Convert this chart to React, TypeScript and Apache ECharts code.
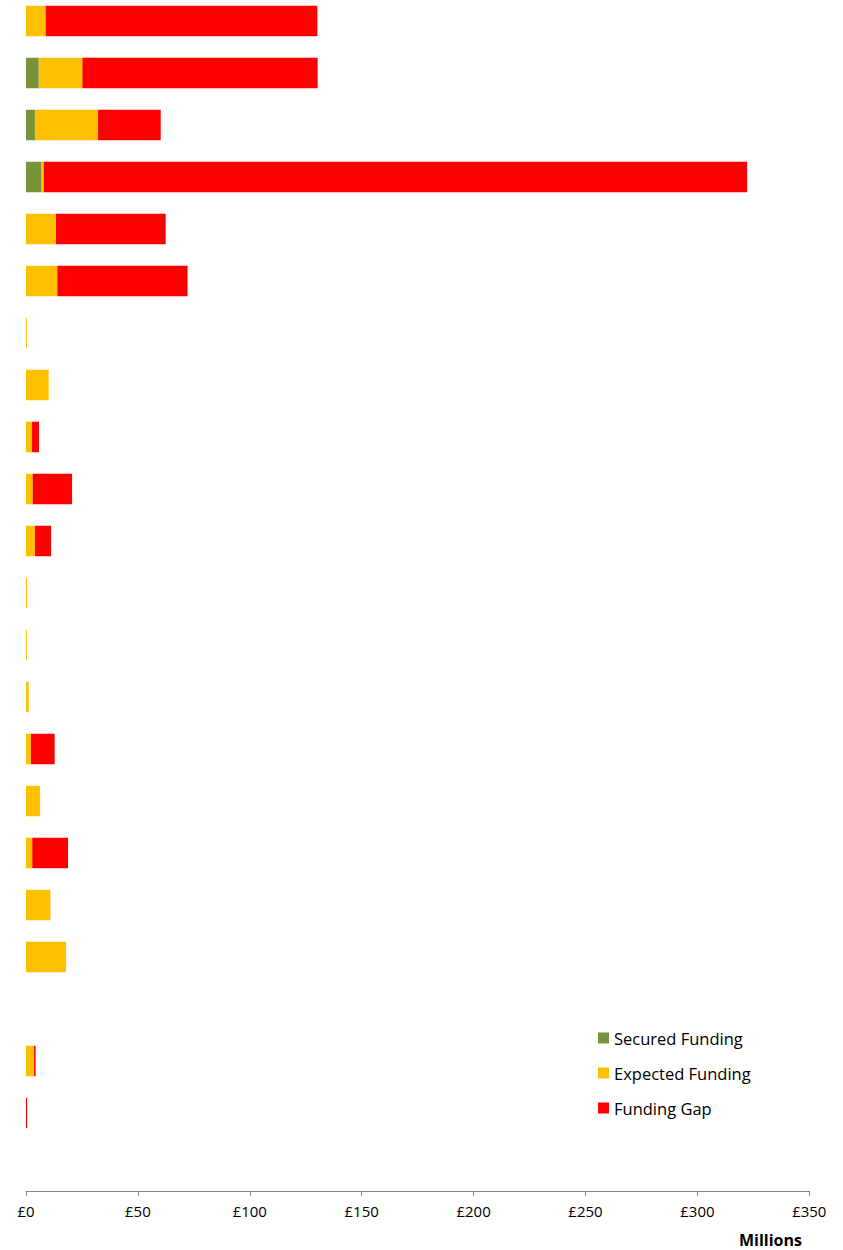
import React, { useEffect, useRef } from "react";
import * as echarts from "echarts";

const categories = [
  "R1", "R2", "R3", "R4", "R5", "R6", "R7", "R8", "R9", "R10", "R11", "R12",
  "R13", "R14", "R15", "R16", "R17", "R18", "R19", "R20", "R21", "R22", "R23",
];
const securedFunding = [0, 5.7, 4.0, 6.7, 0, 0, 0, 0, 0, 0, 0, 0, 0, 0, 0, 0, 0, 0, 0, 0, 0, 0, 0];
const expectedFunding = [8.8, 19.5, 28.2, 1.2, 13.4, 14.0, 0.4, 10.1, 2.7, 3.0, 4.0, 0.5, 0.4, 1.2, 2.2, 6.3, 2.8, 10.9, 17.9, 0, 3.6, 0, 0];
const fundingGap = [121.4, 105.1, 28.0, 314.3, 49.0, 58.2, 0, 0, 3.1, 17.6, 7.2, 0, 0, 0, 10.6, 0, 16.0, 0, 0, 0, 0.7, 0.5, 0];
const xTicks = [0, 50, 100, 150, 200, 250, 300, 350];

const FONT = "'Open Sans', 'Liberation Sans', sans-serif";
const OFF = 5; // the chart is drawn 5px higher than the page top

export default function App() {
  const ref = useRef<HTMLDivElement>(null);
  useEffect(() => {
    if (!ref.current) return;
    const chart = echarts.init(ref.current, null, { renderer: "svg" });
    const mk = (v: number[]) => v.map((d) => (d === 0 ? null : d));
    chart.setOption({
      animation: false,
      grid: { left: 26, width: 783.3, top: 0, height: 1196, containLabel: false },
      legend: {
        orient: "vertical",
        left: 598,
        top: 1028 + OFF,
        padding: 0,
        itemWidth: 11,
        itemHeight: 11,
        itemGap: 15,
        icon: "rect",
        selectedMode: false,
        textStyle: { fontFamily: FONT, fontSize: 16.5, color: "#000", lineHeight: 20 },
        data: ["Secured Funding", "Expected Funding", "Funding Gap"],
      },
      xAxis: {
        type: "value",
        min: xTicks[0],
        max: xTicks[xTicks.length - 1],
        interval: 50,
        splitLine: { show: false },
        axisLine: { show: true, lineStyle: { color: "#868686", width: 1 } },
        axisTick: { show: true, length: 5, lineStyle: { color: "#868686" } },
        axisLabel: {
          fontFamily: FONT,
          fontSize: 15,
          color: "#000",
          margin: 12,
          formatter: (v: number) => "£" + v,
        },
      },
      yAxis: {
        type: "category",
        data: categories,
        inverse: true,
        axisLine: { show: false },
        axisTick: { show: false },
        axisLabel: { show: false },
      },
      graphic: [
        {
          type: "text",
          left: 739,
          top: 1232 + OFF,
          style: { text: "Millions", font: `bold 16px ${FONT}`, fill: "#000" },
        },
      ],
      series: [
        { name: "Secured Funding", type: "bar", stack: "t", barWidth: 30.5, itemStyle: { color: "#77933C" }, data: mk(securedFunding) },
        { name: "Expected Funding", type: "bar", stack: "t", barWidth: 30.5, itemStyle: { color: "#FFC000" }, data: mk(expectedFunding) },
        { name: "Funding Gap", type: "bar", stack: "t", barWidth: 30.5, itemStyle: { color: "#FF0000" }, data: mk(fundingGap) },
      ],
    });
    return () => chart.dispose();
  }, []);
  return (
    <div
      ref={ref}
      style={{ position: "absolute", left: 0, top: -OFF, width: 843, height: 1250 + OFF }}
    />
  );
}
